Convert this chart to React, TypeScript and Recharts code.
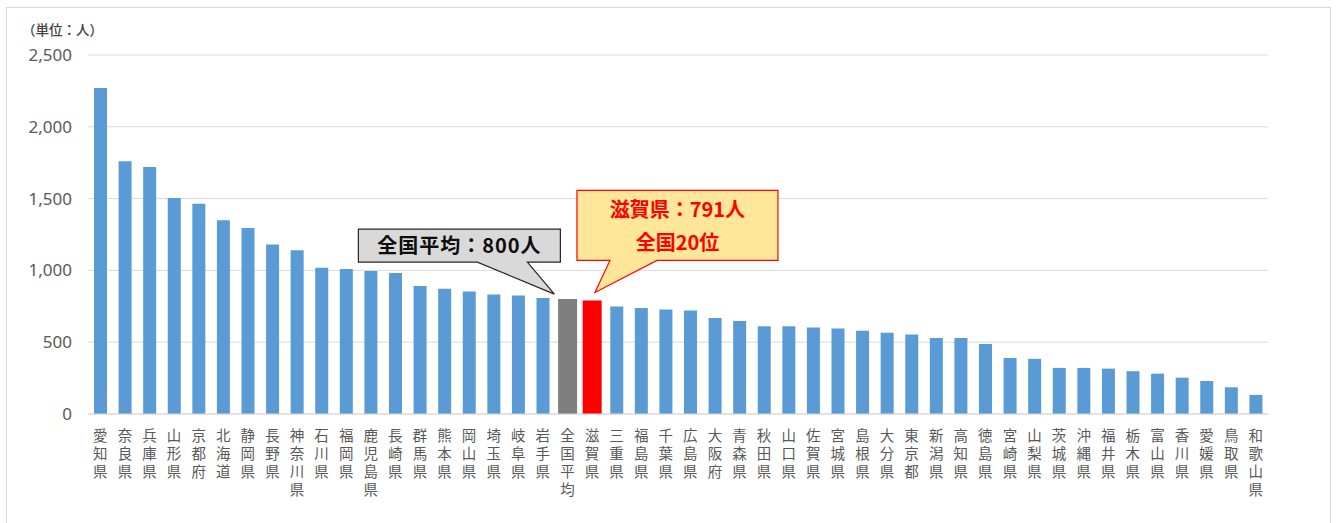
import React from "react";
import { BarChart, Bar, XAxis, YAxis, CartesianGrid, Cell, ReferenceDot } from "recharts";

// 都道府県別の人数（単位：人）、降順
const prefectures = [
  "愛知県", "奈良県", "兵庫県", "山形県", "京都府", "北海道", "静岡県", "長野県",
  "神奈川県", "石川県", "福岡県", "鹿児島県", "長崎県", "群馬県", "熊本県", "岡山県",
  "埼玉県", "岐阜県", "岩手県", "全国平均", "滋賀県", "三重県", "福島県", "千葉県",
  "広島県", "大阪府", "青森県", "秋田県", "山口県", "佐賀県", "宮城県", "島根県",
  "大分県", "東京都", "新潟県", "高知県", "徳島県", "宮崎県", "山梨県", "茨城県",
  "沖縄県", "福井県", "栃木県", "富山県", "香川県", "愛媛県", "鳥取県", "和歌山県",
];

const counts = [
  2270, 1760, 1720, 1505, 1465, 1350, 1295, 1180,
  1140, 1018, 1010, 996, 982, 891, 872, 853,
  832, 825, 807, 800, 791, 749, 738, 727,
  720, 669, 648, 611, 611, 602, 595, 579,
  565, 554, 529, 529, 487, 390, 384, 321,
  321, 316, 298, 281, 253, 230, 186, 133,
];

const yTicks = [0, 500, 1000, 1500, 2000, 2500];

const AVERAGE = "全国平均";
const SHIGA = "滋賀県";
const highlightColors: Record<string, string> = { [AVERAGE]: "#7f7f7f", [SHIGA]: "#ff0000" };

const data = prefectures.map((name, i) => ({
  name,
  base: highlightColors[name] ? null : counts[i],
  accent: highlightColors[name] ? counts[i] : null,
}));

const cjk = '"Noto Sans CJK JP", "Noto Sans", sans-serif';

const VerticalTick = (props: any) => {
  const { x, y, payload } = props;
  const chars = String(payload.value).split("");
  return (
    <text x={x} y={y} textAnchor="middle" fill="#595959" fontSize={14.5} fontFamily={cjk}>
      {chars.map((c, i) => (
        <tspan key={i} x={x} y={y + 19 + i * 18}>
          {c}
        </tspan>
      ))}
    </text>
  );
};

const AverageCallout = (props: any) => {
  const { cx, cy } = props;
  const l = cx - 209, r = cx - 7, t = cy - 70, b = cy - 37;
  const path = `M${l},${t} L${r},${t} L${r},${b} L${cx - 40},${b} L${cx - 13},${cy - 5} L${cx - 90},${b} L${l},${b} Z`;
  return (
    <g>
      <path d={path} fill="#d9d9d9" stroke="#262626" strokeWidth={1.2} />
      <text x={(l + r) / 2} y={(t + b) / 2 + 7} textAnchor="middle" fontSize={20} fontWeight="bold" fontFamily={cjk} fill="#0d0d0d" letterSpacing={1}>
        全国平均：800人
      </text>
    </g>
  );
};

const ShigaCallout = (props: any) => {
  const { cx, cy } = props;
  const l = cx - 15, r = cx + 186, t = cy - 110, b = cy - 40;
  const path = `M${l},${t} L${r},${t} L${r},${b} L${cx + 65},${b} L${cx + 3},${cy - 8} L${cx + 18},${b} L${l},${b} Z`;
  return (
    <g>
      <path d={path} fill="#ffe699" stroke="#ff0000" strokeWidth={1.2} />
      <text x={(l + r) / 2} y={t + 27} textAnchor="middle" fontSize={20} fontWeight="bold" fontFamily={cjk} fill="#ff0000">
        滋賀県：791人
      </text>
      <text x={(l + r) / 2} y={t + 60} textAnchor="middle" fontSize={20} fontWeight="bold" fontFamily={cjk} fill="#ff0000">
        全国20位
      </text>
    </g>
  );
};

export default function App() {
  return (
    <div style={{ position: "absolute", left: 0, top: 0, width: 1338, height: 523, background: "#fff", overflow: "hidden" }}>
      <div style={{ position: "absolute", left: 6, top: 7, width: 1323, height: 530, border: "1px solid #d9d9d9" }} />
      <div
        style={{ position: "absolute", left: 22, top: 19, fontSize: 13.5, fontFamily: cjk, color: "#404040", fontWeight: 500 }}
      >
        （単位：人）
      </div>
      <BarChart
        width={1338}
        height={523}
        data={data}
        margin={{ top: 55, right: 70, left: 0, bottom: 0 }}
        style={{ position: "absolute", left: 0, top: 0 }}
      >
        <CartesianGrid vertical={false} stroke="#d9d9d9" />
        <XAxis
          xAxisId="main"
          dataKey="name"
          type="category"
          interval={0}
          height={109}
          tickLine={false}
          axisLine={{ stroke: "#d9d9d9" }}
          tick={<VerticalTick />}
        />
        <XAxis xAxisId="accent" dataKey="name" type="category" height={0} hide />
        <YAxis
          width={88}
          domain={[0, 2500]}
          ticks={yTicks}
          axisLine={false}
          tickLine={false}
          tickSize={0}
          tickMargin={16}
          tickFormatter={(v: number) => v.toLocaleString("en-US")}
          tick={{ fill: "#595959", fontSize: 17, fontFamily: '"Noto Sans", sans-serif' }}
        />
        <Bar xAxisId="main" dataKey="base" fill="#5b9bd5" barSize={13} isAnimationActive={false} />
        <Bar xAxisId="accent" dataKey="accent" barSize={19} isAnimationActive={false}>
          {data.map((d) => (
            <Cell key={d.name} fill={highlightColors[d.name] || "#5b9bd5"} />
          ))}
        </Bar>
        <ReferenceDot xAxisId="main" x={AVERAGE} y={800} shape={<AverageCallout />} />
        <ReferenceDot xAxisId="main" x={SHIGA} y={791} shape={<ShigaCallout />} />
      </BarChart>
    </div>
  );
}
